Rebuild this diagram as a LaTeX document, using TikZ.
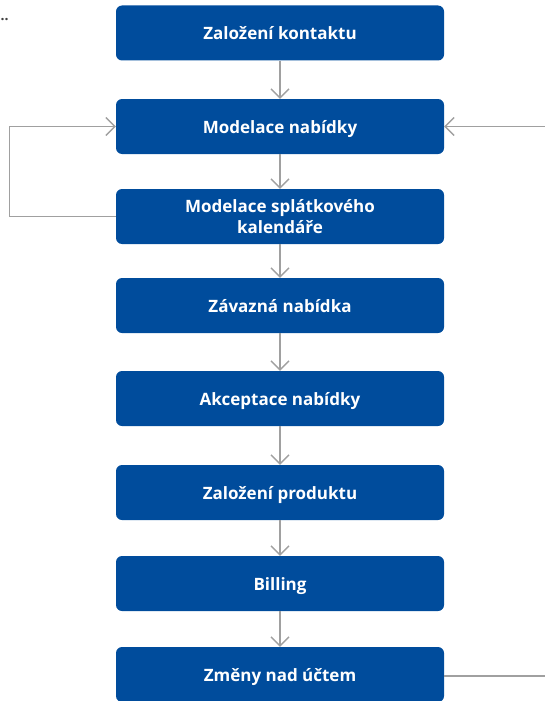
\documentclass[tikz,border=0pt]{standalone}
\usepackage{fontspec}
\setmainfont{Open Sans}
\usetikzlibrary{arrows.meta}
\definecolor{boxblue}{RGB}{0,76,156}
\definecolor{linegray}{RGB}{160,160,160}
\tikzset{stepbase/.style={rectangle,rounded corners=6pt,fill=boxblue,text=white,
	minimum width=328pt,minimum height=55pt,align=center,
	font=\fontsize{17}{21}\selectfont\bfseries,inner sep=2pt},
	stepbox/.style={stepbase,text height=16pt,text depth=2pt},
	flow/.style={draw=linegray,line width=1.3pt,
	-{Straight Barb[length=9pt,width=18pt,line width=1.3pt]}}}
\begin{document}
\begin{tikzpicture}[x=1pt,y=-1pt]
\useasboundingbox (0,0) rectangle (545,701);
\node[text=black!75,font=\fontsize{14}{14}\selectfont\bfseries,anchor=base west,inner sep=0] (dots) at (0.5,21) {..};
\node[stepbox] (kontakt) at (280,33) {Založení kontaktu};
\node[stepbox] (nabidka) at (280,126.5) {Modelace nabídky};
\node[stepbase] (kalendar) at (280,216.5) {Modelace splátkového\\kalendáře};
\node[stepbox] (zavazna) at (280,305.5) {Závazná nabídka};
\node[stepbox] (akceptace) at (280,398.5) {Akceptace nabídky};
\node[stepbox] (produkt) at (280,492.5) {Založení produktu};
\node[stepbox] (billing) at (280,583.5) {Billing};
\node[stepbox] (zmeny) at (280,674.5) {Změny nad účtem};
\coordinate (vstup) at (545,126.5);
\coordinate (vystup) at (545,676);
% hlavni tok
\draw[flow] (kontakt) -- (nabidka);
\draw[flow] (nabidka) -- (kalendar);
\draw[flow] (kalendar) -- (zavazna);
\draw[flow] (zavazna) -- (akceptace);
\draw[flow] (akceptace) -- (produkt);
\draw[flow] (produkt) -- (billing);
\draw[flow] (billing) -- (zmeny);
% smycky
\draw[flow] (kalendar.west) -- ++(-106,0) |- (nabidka.west);
\draw[flow] (vstup) -- (nabidka.east);
\draw[draw=linegray,line width=1.3pt] (zmeny.east |- vystup) -- (vystup);
\end{tikzpicture}
\end{document}
